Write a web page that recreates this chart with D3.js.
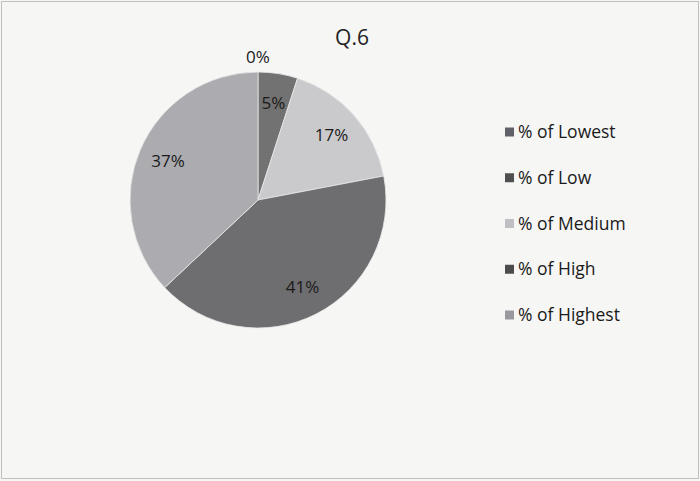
<!DOCTYPE html>
<html><head><meta charset="utf-8">
<script src="https://cdn.jsdelivr.net/npm/d3@7"></script>
<style>body{margin:0;background:#fff}svg{display:block}</style>
</head><body>
<script>
const categories = ["% of Lowest", "% of Low", "% of Medium", "% of High", "% of Highest"];
const values = [0, 5, 17, 41, 37];
const labels = ["0%", "5%", "17%", "41%", "37%"];
const colors = ["#6c6c74", "#727272", "#cacacd", "#6e6e70", "#ababb0"];
const legendColors = ["#606068", "#505050", "#c0c0c4", "#4c4c4c", "#98989e"];
const title = "Q.6";

const W = 700, H = 481;
const svg = d3.select("body").append("svg").attr("width", W).attr("height", H);
svg.append("rect").attr("x", 0).attr("y", 0).attr("width", W).attr("height", H).attr("fill", "#f6f6f5");
svg.append("rect").attr("x", 1.5).attr("y", 1.5).attr("width", W - 3).attr("height", H - 4)
  .attr("fill", "none").attr("stroke", "#8a8a8a").attr("stroke-dasharray", "1,1");

const font = "'Open Sans', 'Liberation Sans', sans-serif";
svg.append("text").attr("x", 352).attr("y", 45).attr("text-anchor", "middle")
  .attr("font-family", font).attr("font-size", 21).attr("fill", "#222").text(title);

const cx = 258, cy = 200, R = 128;
const pie = d3.pie().sort(null).value(d => d)(values);
const arc = d3.arc().innerRadius(0).outerRadius(R);
const g = svg.append("g").attr("transform", `translate(${cx},${cy})`);
g.selectAll("path").data(pie).join("path")
  .attr("d", arc).attr("fill", (d, i) => colors[i])
  .attr("stroke", "#e8e8e8").attr("stroke-width", 0.8);

const labelArc = d3.arc().innerRadius(98).outerRadius(98);
const outArc = d3.arc().innerRadius(143).outerRadius(143);
g.selectAll("text").data(pie).join("text")
  .attr("transform", d => {
    const c = (d.value === 0 ? outArc : labelArc).centroid(d);
    return `translate(${c[0]},${c[1]})`;
  })
  .attr("text-anchor", "middle").attr("dy", "0.35em")
  .attr("font-family", font).attr("font-size", 17).attr("fill", "#1a1a1a")
  .text((d, i) => labels[i]);

const y = d3.scalePoint().domain(categories).range([132, 315]);
const lg = svg.append("g");
categories.forEach((c, i) => {
  lg.append("rect").attr("x", 505).attr("y", y(c) - 4.5).attr("width", 9).attr("height", 9)
    .attr("fill", legendColors[i]);
  lg.append("text").attr("x", 518).attr("y", y(c)).attr("dy", "0.35em")
    .attr("font-family", font).attr("font-size", 17.5).attr("fill", "#1a1a1a").text(c);
});
</script>
</body></html>
